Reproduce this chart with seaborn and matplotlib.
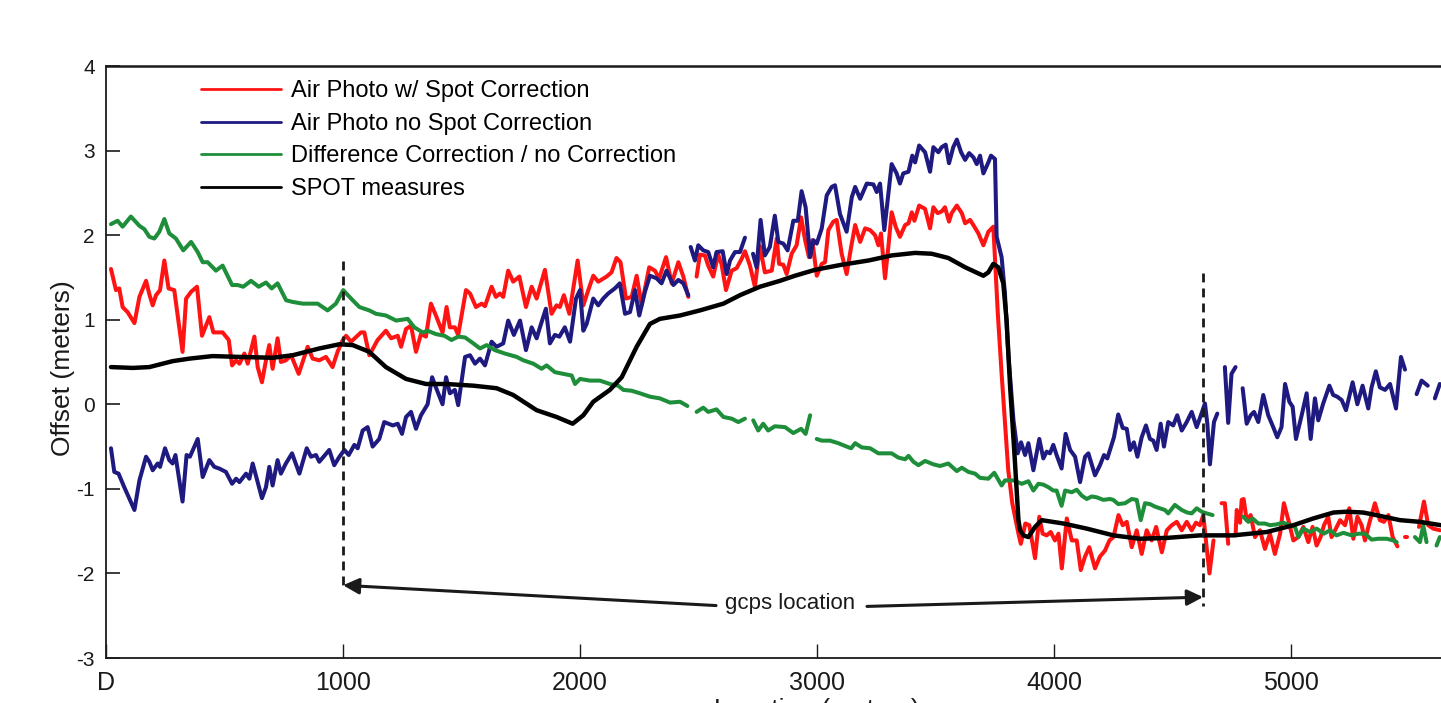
import numpy as np
import pandas as pd
import matplotlib
matplotlib.use("Agg")
import matplotlib.pyplot as plt
import seaborn as sns
from matplotlib.lines import Line2D

nan = np.nan

# ---------------- data ----------------
red_x = [21, 42, 56, 70, 91, 120, 141, 169, 183, 197, 211, 228, 246, 264, 288, 323, 338, 359, 384, 405,
         436, 453, 492, 518, 532, 549, 563, 584, 598, 626, 640, 658, 675, 689, 703, 724, 738, 759, 781, 813,
         851, 872, 900, 928, 956, 977, 999, 1013, 1034, 1076, 1090, 1111, 1146, 1181, 1203, 1231, 1245, 1266,
         1287, 1308, 1329, 1350, 1371, 1392, 1420, 1437, 1451, 1472, 1486, 1519, 1536, 1561, 1585, 1599, 1627,
         1645, 1662, 1676, 1697, 1718, 1744, 1772, 1796, 1817, 1852, 1880, 1901, 1915, 1932, 1955, 1990, 2014,
         2035, 2056, 2077, 2112, 2133, 2154, 2171, 2194, 2218, 2239, 2260, 2292, 2316, 2334, 2363, 2387, 2415,
         2436, 2457, nan,
         2492, 2506, 2527, 2541, 2562, 2583, 2597, 2616, 2640, 2661, 2682, 2696, 2717, 2738, 2759, 2780, 2809,
         2830, 2840, 2858, 2872, 2893, 2914, 2933, 2950, 2966, 2980, 2999, 3020, 3034, 3048, 3069, 3083, 3104,
         3125, 3144, 3161, 3182, 3203, 3224, 3245, 3259, 3270, 3287, 3301, 3315, 3332, 3350, 3372, 3386, 3400,
         3411, 3431, 3456, 3477, 3491, 3509, 3526, 3540, 3557, 3568, 3590, 3611, 3625, 3646, 3664, 3681, 3702,
         3723, 3744, 3763, 3779, 3807, 3824, 3850, 3860, 3879, 3896, 3920, 3938, 3952, 3969, 3986, 4004, 4019,
         4033, 4054, 4075, 4096, 4113, 4131, 4149, 4173, 4194, 4215, 4234, 4251, 4272, 4290, 4307, 4328, 4349,
         4370, 4391, 4412, 4431, 4455, 4476, 4497, 4518, 4539, 4560, 4581, 4599, 4616, 4630, 4644, 4656, 4673,
         nan, 4707, 4721, 4735, nan,
         4766, 4771, 4785, 4792, 4800, 4813, 4830, 4848, 4869, 4890, 4911, 4932, 4954, 4970, 4989, 5010, 5031,
         5052, 5073, 5091, 5108, 5125, 5139, 5157, 5171, 5186, 5207, 5228, 5246, 5263, 5280, 5298, 5312, 5330,
         5354, 5375, 5392, 5411, 5429, 5449, nan, 5480, 5490, nan, 5540, 5561, 5579, 5600, 5629]
red_y = [1.60, 1.35, 1.37, 1.15, 1.09, 0.96, 1.27, 1.46, 1.30, 1.17, 1.29, 1.35, 1.70, 1.37, 1.35, 0.62, 1.25, 1.33, 1.39, 0.81,
         1.03, 0.85, 0.85, 0.76, 0.46, 0.52, 0.48, 0.60, 0.48, 0.80, 0.44, 0.26, 0.52, 0.70, 0.42, 0.78, 0.50, 0.52, 0.58, 0.36,
         0.68, 0.54, 0.52, 0.56, 0.44, 0.62, 0.76, 0.81, 0.74, 0.85, 0.85, 0.58, 0.76, 0.87, 0.78, 0.81, 0.68, 0.89,
         0.93, 0.62, 0.83, 0.80, 1.19, 1.05, 0.85, 1.15, 0.91, 0.91, 0.82, 1.35, 1.31, 1.15, 1.19, 1.16, 1.39,
         1.27, 1.31, 1.27, 1.58, 1.45, 1.51, 1.15, 1.39, 1.25, 1.59, 1.07, 1.17, 1.15, 1.29, 1.07, 1.70, 1.17,
         1.35, 1.52, 1.45, 1.51, 1.56, 1.73, 1.68, 1.25, 1.27, 1.52, 1.17, 1.62, 1.58, 1.49, 1.74, 1.43, 1.68,
         1.51, 1.27, nan,
         1.51, 1.77, 1.76, 1.64, 1.51, 1.77, 1.66, 1.35, 1.58, 1.61, 1.72, 1.81, 1.64, 1.39, 1.87, 1.56, 1.58,
         1.96, 1.66, 1.65, 1.54, 1.78, 1.88, 2.21, 1.94, 1.74, 1.94, 1.52, 1.66, 1.68, 2.06, 2.16, 2.18, 1.78,
         1.54, 1.86, 2.12, 1.92, 2.08, 2.06, 2.00, 1.88, 2.02, 1.49, 1.86, 2.27, 2.10, 1.98, 2.12, 2.14, 2.27,
         2.17, 2.35, 2.31, 2.08, 2.33, 2.26, 2.28, 2.33, 2.16, 2.26, 2.35, 2.26, 2.14, 2.18, 2.10, 2.02, 1.88,
         2.04, 2.10, 1.07, 0.36, -0.78, -1.17, -1.53, -1.65, -1.41, -1.43, -1.82, -1.33, -1.53, -1.55, -1.51, -1.61, -1.53,
         -1.94, -1.35, -1.61, -1.61, -1.96, -1.80, -1.69, -1.94, -1.80, -1.73, -1.61, -1.57, -1.31, -1.43, -1.39, -1.69, -1.49,
         -1.77, -1.49, -1.61, -1.45, -1.75, -1.49, -1.43, -1.39, -1.49, -1.39, -1.49, -1.40, -1.43, -1.31, -1.69, -2.00, -1.61,
         nan, -1.17, -1.17, -1.65, nan,
         -1.55, -1.25, -1.40, -1.13, -1.12, -1.37, -1.31, -1.57, -1.49, -1.71, -1.53, -1.77, -1.53, -1.17, -1.37, -1.61, -1.57,
         -1.45, -1.63, -1.45, -1.67, -1.57, -1.43, -1.33, -1.57, -1.49, -1.37, -1.43, -1.23, -1.59, -1.33, -1.43, -1.61, -1.41,
         -1.17, -1.37, -1.39, -1.31, -1.57, -1.68, nan, -1.57, -1.57, nan, -1.45, -1.15, -1.43, -1.47, -1.49]

blue_x = [21, 35, 53, 77, 120, 141, 169, 183, 197, 218, 228, 249, 267, 281, 293, 323, 340, 354, 387, 408,
          436, 457, 478, 506, 532, 549, 563, 591, 605, 619, 658, 675, 689, 703, 724, 738, 759, 785, 816, 847,
          865, 886, 900, 942, 963, 985, 1006, 1024, 1048, 1062, 1083, 1104, 1125, 1153, 1174, 1210, 1231, 1249,
          1266, 1287, 1308, 1329, 1357, 1376, 1392, 1420, 1435, 1451, 1472, 1486, 1515, 1536, 1557, 1578, 1599,
          1627, 1648, 1676, 1697, 1721, 1747, 1772, 1796, 1817, 1831, 1856, 1873, 1894, 1913, 1936, 1958, 1983,
          2000, 2014, 2028, 2056, 2077, 2098, 2119, 2147, 2168, 2190, 2211, 2232, 2250, 2274, 2295, 2323, 2344,
          2365, 2394, 2415, 2436, 2457, nan,
          2467, 2485, 2499, 2520, 2541, 2562, 2576, 2602, 2619, 2633, 2654, 2675, 2696, nan,
          2730, 2745, 2762, 2780, 2801, 2822, 2837, 2858, 2876, 2900, 2919, 2935, 2952, 2971, 2985, 2999, 3020,
          3041, 3062, 3076, 3097, 3125, 3147, 3161, 3182, 3210, 3238, 3252, 3266, 3284, 3298, 3315, 3336, 3350,
          3364, 3386, 3402, 3414, 3431, 3456, 3477, 3491, 3512, 3526, 3543, 3557, 3575, 3590, 3608, 3625, 3642,
          3660, 3674, 3688, 3702, 3723, 3734, 3751, 3758, 3779, 3793, 3807, 3829, 3847, 3861, 3878, 3892, 3913,
          3938, 3955, 3969, 3983, 3997, 4011, 4032, 4049, 4068, 4089, 4110, 4131, 4145, 4173, 4194, 4211, 4225,
          4253, 4271, 4290, 4307, 4321, 4337, 4352, 4370, 4388, 4405, 4419, 4433, 4450, 4464, 4482, 4503, 4520,
          4539, 4560, 4581, 4602, 4616, 4637, 4647, 4658, 4675, 4689, nan,
          4721, 4735, 4749, 4766, nan,
          4796, 4813, 4830, 4844, 4862, 4883, 4904, 4925, 4942, 4960, 4975, 4993, 5007, 5021, 5045, 5066, 5083,
          5101, 5115, 5136, 5162, 5178, 5195, 5214, 5232, 5260, 5280, 5302, 5326, 5340, 5358, 5375, 5397, 5418,
          5443, 5464, 5481, nan, 5530, 5551, 5577, nan, 5607, 5628]
blue_y = [-0.52, -0.80, -0.82, -0.98, -1.25, -0.90, -0.62, -0.68, -0.78, -0.70, -0.74, -0.52, -0.66, -0.70, -0.60, -1.15, -0.60, -0.62, -0.41, -0.86,
          -0.66, -0.74, -0.76, -0.80, -0.94, -0.88, -0.92, -0.82, -0.88, -0.70, -1.11, -0.98, -0.74, -0.96, -0.66, -0.82, -0.70, -0.58, -0.82, -0.52,
          -0.62, -0.60, -0.68, -0.54, -0.72, -0.62, -0.54, -0.60, -0.48, -0.52, -0.31, -0.27, -0.50, -0.41, -0.21, -0.25, -0.23, -0.35,
          -0.15, -0.09, -0.29, -0.13, 0.00, 0.32, 0.20, 0.00, 0.32, 0.13, 0.17, -0.01, 0.56, 0.58, 0.48, 0.54, 0.46,
          0.74, 0.68, 0.72, 0.99, 0.82, 0.99, 0.64, 0.91, 0.78, 0.91, 1.13, 0.72, 0.82, 0.80, 0.91, 0.74, 1.25,
          1.35, 0.87, 0.95, 1.25, 1.17, 1.25, 1.31, 1.37, 1.43, 1.07, 1.09, 1.35, 1.05, 1.33, 1.52, 1.49, 1.43,
          1.58, 1.41, 1.47, 1.43, 1.29, nan,
          1.86, 1.70, 1.88, 1.82, 1.80, 1.62, 1.80, 1.81, 1.54, 1.70, 1.80, 1.80, 1.97, nan,
          1.78, 1.62, 2.18, 1.76, 1.86, 2.23, 1.92, 1.90, 1.82, 2.17, 2.17, 2.52, 2.33, 1.74, 1.94, 1.90, 2.08,
          2.47, 2.57, 2.59, 2.25, 2.04, 2.45, 2.57, 2.43, 2.61, 2.60, 2.51, 2.61, 2.06, 2.41, 2.84, 2.73, 2.61,
          2.73, 2.75, 2.94, 2.86, 3.06, 2.98, 2.75, 3.04, 2.98, 3.04, 3.07, 2.85, 3.04, 3.13, 2.98, 2.89, 2.97,
          2.92, 2.84, 2.94, 2.73, 2.86, 2.94, 2.90, 1.98, 1.74, 1.31, 0.60, -0.19, -0.58, -0.45, -0.60, -0.46, -0.78,
          -0.41, -0.64, -0.56, -0.58, -0.48, -0.60, -0.76, -0.35, -0.54, -0.62, -0.92, -0.62, -0.58, -0.84, -0.72, -0.60, -0.64,
          -0.39, -0.12, -0.28, -0.29, -0.54, -0.45, -0.62, -0.39, -0.25, -0.41, -0.43, -0.54, -0.23, -0.50, -0.21, -0.25, -0.13,
          -0.31, -0.21, -0.09, -0.27, -0.16, 0.01, -0.23, -0.71, -0.21, -0.11, nan,
          0.44, -0.22, 0.36, 0.44, nan,
          0.19, -0.23, -0.13, -0.09, -0.21, 0.11, -0.13, -0.27, -0.39, -0.27, 0.24, 0.03, -0.03, -0.41, -0.13, 0.13, -0.41,
          0.07, -0.19, 0.01, 0.22, 0.11, 0.09, 0.05, -0.07, 0.26, 0.00, 0.22, -0.05, 0.20, 0.39, 0.20, 0.17, 0.24,
          -0.05, 0.56, 0.41, nan, 0.12, 0.28, 0.22, nan, 0.07, 0.24]

green_x = [21, 49, 70, 105, 141, 162, 183, 204, 225, 246, 267, 295, 326, 359, 387, 408, 429, 464, 492, 532,
           556, 579, 612, 644, 675, 699, 724, 760, 788, 830, 872, 893, 935, 970, 1001, 1034, 1069, 1111, 1139,
           1181, 1224, 1273, 1301, 1336, 1357, 1392, 1428, 1458, 1486, 1515, 1550, 1578, 1606, 1641, 1683, 1733,
           1761, 1803, 1838, 1859, 1894, 1929, 1965, 1979, 2000, 2042, 2084, 2126, 2161, 2183, 2218, 2253, 2295,
           2337, 2380, 2422, 2453, nan,
           2492, 2520, 2541, 2576, 2605, 2640, 2668, 2696, nan,
           2731, 2752, 2773, 2794, 2822, 2865, 2900, 2933, 2952, 2971, nan,
           2999, 3020, 3055, 3090, 3125, 3144, 3161, 3189, 3224, 3259, 3315, 3343, 3372, 3386, 3407, 3428, 3456,
           3491, 3519, 3554, 3590, 3611, 3639, 3667, 3688, 3723, 3748, 3779, 3793, 3829, 3864, 3892, 3913, 3934,
           3955, 3976, 3997, 4011, 4032, 4047, 4075, 4096, 4117, 4138, 4159, 4180, 4208, 4236, 4250, 4271, 4300,
           4328, 4349, 4366, 4384, 4405, 4426, 4447, 4468, 4482, 4510, 4539, 4562, 4581, 4602, 4623, 4644, 4669, nan,
           4799, 4820, 4838, 4862, 4890, 4911, 4939, 4967, 4996, 5017, 5031, 5052, 5080, 5108, 5139, 5164, 5192,
           5221, 5256, 5284, 5312, 5340, 5368, 5404, 5432, 5446, nan,
           5523, 5544, 5558, 5572, nan, 5614, 5628]
green_y = [2.13, 2.17, 2.10, 2.22, 2.11, 2.07, 1.98, 1.96, 2.04, 2.19, 2.02, 1.96, 1.82, 1.92, 1.80, 1.68, 1.68, 1.58, 1.64, 1.41,
           1.41, 1.39, 1.46, 1.39, 1.44, 1.37, 1.43, 1.23, 1.21, 1.19, 1.19, 1.19, 1.11, 1.19, 1.35, 1.25, 1.15, 1.11, 1.07,
           1.05, 0.99, 1.01, 0.91, 0.85, 0.87, 0.83, 0.81, 0.76, 0.80, 0.79, 0.72, 0.66, 0.70, 0.64, 0.60, 0.56,
           0.52, 0.48, 0.42, 0.46, 0.38, 0.36, 0.34, 0.24, 0.30, 0.28, 0.28, 0.24, 0.22, 0.17, 0.16, 0.13, 0.09,
           0.07, 0.02, 0.03, -0.02, nan,
           -0.09, -0.04, -0.09, -0.06, -0.15, -0.17, -0.21, -0.17, nan,
           -0.19, -0.31, -0.23, -0.31, -0.26, -0.27, -0.34, -0.29, -0.35, -0.13, nan,
           -0.41, -0.43, -0.43, -0.46, -0.50, -0.52, -0.46, -0.51, -0.52, -0.58, -0.58, -0.63, -0.65, -0.61, -0.68, -0.72, -0.67,
           -0.71, -0.73, -0.70, -0.79, -0.75, -0.80, -0.82, -0.87, -0.88, -0.81, -0.96, -0.90, -0.90, -0.94, -0.91, -1.02, -0.94,
           -0.95, -0.98, -1.02, -1.02, -1.20, -1.02, -1.04, -1.01, -1.08, -1.12, -1.09, -1.10, -1.13, -1.12, -1.13, -1.18, -1.17,
           -1.12, -1.13, -1.37, -1.17, -1.18, -1.21, -1.23, -1.25, -1.29, -1.19, -1.25, -1.28, -1.29, -1.23, -1.27, -1.29, -1.31, nan,
           -1.33, -1.39, -1.35, -1.41, -1.41, -1.43, -1.42, -1.40, -1.43, -1.45, -1.57, -1.47, -1.51, -1.47, -1.53, -1.49, -1.55,
           -1.52, -1.55, -1.53, -1.53, -1.60, -1.59, -1.59, -1.61, -1.63, nan,
           -1.57, -1.63, -1.43, -1.63, nan, -1.67, -1.57]

spot_x = [21, 113, 183, 281, 352, 450, 563, 703, 788, 900, 985, 1041, 1111, 1181, 1266, 1350, 1435, 1550, 1648,
          1718, 1817, 1901, 1969, 2014, 2056, 2126, 2176, 2239, 2295, 2337, 2422, 2506, 2605, 2675, 2759, 2844,
          2907, 2992, 3104, 3217, 3315, 3414, 3484, 3554, 3625, 3702, 3723, 3744, 3765, 3786, 3800, 3815, 3833,
          3850, 3857, 3871, 3892, 3920, 3948, 4040, 4138, 4251, 4363, 4476, 4616, 4757, 4898, 5010, 5094, 5179,
          5235, 5305, 5376, 5460, 5544, 5633]
spot_y = [0.44, 0.43, 0.44, 0.51, 0.54, 0.57, 0.56, 0.55, 0.58, 0.66, 0.71, 0.70, 0.62, 0.44, 0.30, 0.24, 0.24, 0.22, 0.19,
          0.11, -0.07, -0.15, -0.23, -0.13, 0.03, 0.17, 0.32, 0.68, 0.95, 1.01, 1.05, 1.11, 1.19, 1.29, 1.39, 1.46,
          1.52, 1.59, 1.65, 1.70, 1.76, 1.79, 1.78, 1.73, 1.62, 1.52, 1.56, 1.66, 1.62, 1.43, 0.99, 0.20, -0.58,
          -1.37, -1.49, -1.55, -1.57, -1.45, -1.37, -1.41, -1.47, -1.55, -1.59, -1.58, -1.55, -1.55, -1.51, -1.43, -1.35, -1.28,
          -1.27, -1.28, -1.32, -1.37, -1.39, -1.43]

series_names = ["Air Photo w/ Spot Correction", "Air Photo no Spot Correction",
                "Difference Correction / no Correction", "SPOT measures"]
series_colors = ["#FF1414", "#1F1A80", "#1E8E3A", "#000000"]

gcps_x = [1000, 4629]
x_ticks = [0, 1000, 2000, 3000, 4000, 5000]
x_ticklabels = ["D", "1000", "2000", "3000", "4000", "5000"]
y_ticks = [-3, -2, -1, 0, 1, 2, 3, 4]


def to_frame(xs, ys):
    rows, seg = [], 0
    for x, y in zip(xs, ys):
        if np.isnan(x) or np.isnan(y):
            seg += 1
            continue
        rows.append((seg, x, y))
    return pd.DataFrame(rows, columns=["seg", "x", "y"])


sns.set_theme(style="white")
plt.rcParams["font.family"] = ["Liberation Sans", "DejaVu Sans"]
plt.rcParams["axes.unicode_minus"] = False
plt.rcParams["text.color"] = "black"
plt.rcParams["axes.labelcolor"] = "black"
plt.rcParams["xtick.color"] = "black"
plt.rcParams["ytick.color"] = "black"

W, H = 1441, 703
fig = plt.figure(figsize=(W / 100, H / 100), dpi=100)
ax_left, ax_right, ax_top, ax_bot = 106, 1528, 66, 658
ax = fig.add_axes([ax_left / W, (H - ax_bot) / H, (ax_right - ax_left) / W, (ax_bot - ax_top) / H])

data_sets = [(red_x, red_y), (blue_x, blue_y), (green_x, green_y), (spot_x, spot_y)]
widths = [2.9, 2.9, 2.9, 3.2]
for (xs, ys), col, lw in zip(data_sets, series_colors, widths):
    df = to_frame(xs, ys)
    sns.lineplot(data=df, x="x", y="y", units="seg", estimator=None, sort=False,
                 color=col, lw=lw, legend=False, ax=ax)

# gcps dashed markers
ax.plot([gcps_x[0], gcps_x[0]], [1.70, -2.16], ls=(0, (3.2, 2.2)), color="k", lw=2.0, zorder=5)
ax.plot([gcps_x[1], gcps_x[1]], [1.55, -2.38], ls=(0, (3.2, 2.2)), color="k", lw=2.0, zorder=5)

arrow = dict(arrowstyle="-|>", color="k", lw=2.2, mutation_scale=24, shrinkA=0, shrinkB=0)
ax.annotate("", xy=(gcps_x[0], -2.14), xytext=(2574, -2.38), arrowprops=arrow)
ax.annotate("", xy=(gcps_x[1], -2.28), xytext=(3211, -2.39), arrowprops=arrow)
ax.text(2886, -2.355, "gcps location", ha="center", va="center", fontsize=16, color="k")

ax.set_xlim(0, 6000)
ax.set_ylim(-3, 4)
ax.set_xticks(x_ticks)
ax.set_xticklabels(x_ticklabels)
ax.set_yticks(y_ticks)
ax.tick_params(axis="x", which="major", bottom=True, top=False, direction="in", length=10,
               width=1, labelsize=18, pad=9, colors="k")
ax.tick_params(axis="y", which="major", left=True, right=False, direction="in", length=10,
               width=1.2, labelsize=15, pad=8, colors="k")
for s in ["left", "bottom", "top"]:
    ax.spines[s].set_color("k")
    ax.spines[s].set_linewidth(1.3)
ax.spines["top"].set_linewidth(1.8)
ax.spines["right"].set_visible(False)

ax.set_xlabel("Location (meters)", fontsize=19, color="k")
ax.set_ylabel("Offset (meters)", fontsize=19, color="k")
ax.xaxis.set_label_coords(0.5, -0.068)
ax.yaxis.set_label_coords(-0.022, 0.49)

handles = [Line2D([], [], color=c, lw=2.0) for c in series_colors]
leg = ax.legend(handles, series_names, loc="upper left", bbox_to_anchor=(0.0668, 0.976),
                frameon=False, fontsize=17, handlelength=3.4, handletextpad=0.4,
                labelspacing=0.45, borderpad=0, borderaxespad=0)
for t in leg.get_texts():
    t.set_color("black")

fig.savefig("out.png", dpi=100)
